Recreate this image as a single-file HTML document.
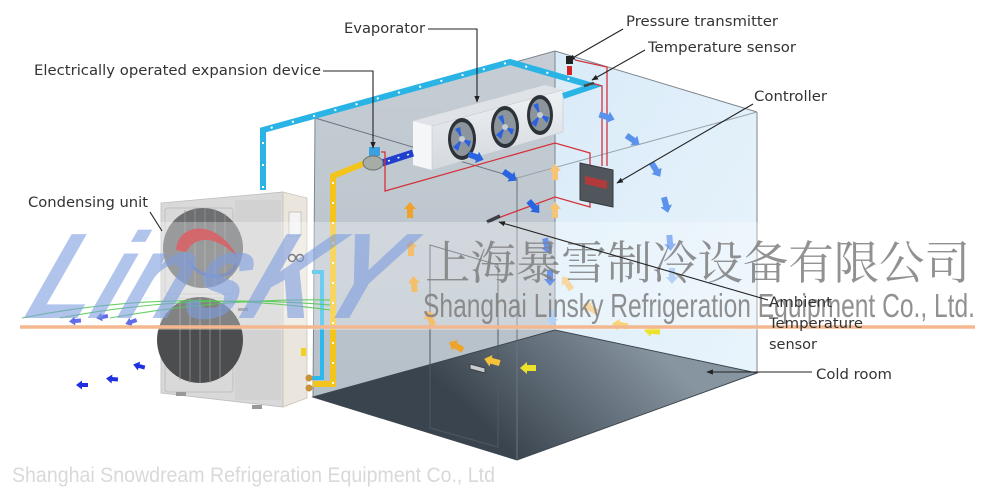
<!DOCTYPE html>
<html><head><meta charset="utf-8"><style>
html,body{margin:0;padding:0;background:#fff;}
svg{display:block;}
.lbl{font-family:"DejaVu Sans","Liberation Sans",sans-serif;font-size:14px;fill:#333;}
</style></head><body>
<svg width="1000" height="490" viewBox="0 0 1000 490" xmlns="http://www.w3.org/2000/svg">
<defs>
  <linearGradient id="gwall" x1="0" y1="0" x2="0" y2="1">
    <stop offset="0" stop-color="#c6cdd4"/><stop offset="1" stop-color="#b6c0c9"/>
  </linearGradient>
  <linearGradient id="bwall" x1="0" y1="0" x2="1" y2="1">
    <stop offset="0" stop-color="#d9ebf8"/><stop offset="1" stop-color="#e9f4fc"/>
  </linearGradient>
  <linearGradient id="floor" gradientUnits="userSpaceOnUse" x1="517" y1="460" x2="640" y2="335">
    <stop offset="0" stop-color="#3a444e"/><stop offset="1" stop-color="#8795a1"/>
  </linearGradient>
  <linearGradient id="evap" x1="0" y1="0" x2="0" y2="1">
    <stop offset="0" stop-color="#eef1f4"/><stop offset="1" stop-color="#d4d9de"/>
  </linearGradient>
  <marker id="ah" viewBox="0 0 10 10" refX="9" refY="5" markerWidth="6" markerHeight="6" orient="auto">
    <path d="M0,1 L10,5 L0,9 Z" fill="#222"/>
  </marker>
  <path id="arr" d="M-8,-3 L1,-3 L1,-6 L8,0 L1,6 L1,3 L-8,3 Z"/>
  <path id="sarr" d="M-6,-2 L0,-2 L0,-4.5 L6,0 L0,4.5 L0,2 L-6,2 Z"/>
</defs>

<!-- ROOM -->
<polygon points="315,118 555,51 555,330 313,397" fill="url(#gwall)"/>
<polygon points="555,51 757,112 757,373 555,330" fill="url(#bwall)"/>
<polygon points="313,397 555,330 757,373 517,460" fill="url(#floor)"/>
<g stroke="#7d868e" stroke-width="1" fill="none">
  <line x1="315" y1="118" x2="555" y2="51"/>
  <line x1="555" y1="51" x2="757" y2="112"/>
  <line x1="757" y1="112" x2="757" y2="373"/>
  <line x1="555" y1="51" x2="555" y2="330"/>
  <line x1="315" y1="118" x2="313" y2="397"/>
  <line x1="315" y1="118" x2="517" y2="178" stroke="#6b747c"/>
  <line x1="517" y1="178" x2="757" y2="112" stroke="#9aa3ab"/>
  <line x1="517" y1="178" x2="517" y2="460" stroke="#6b747c"/>
  <polygon points="313,397 555,330 757,373 517,460" stroke="#3d464f"/>
</g>
<!-- door -->
<polygon points="430,245 498,265 498,447 430,428" fill="none" stroke="#4f5962" stroke-width="1"/>
<polygon points="470,364 485,368 485,373 470,369" fill="#c9ccd0" stroke="#3c3f44" stroke-width="1"/>

<!-- EVAPORATOR -->
<polygon points="413,121 545,85 563,90 432,126" fill="#dfe3e7"/>
<polygon points="413,121 432,126 432,170 413,165" fill="#f4f6f8"/>
<polygon points="432,126 563,90 563,132 432,170" fill="url(#evap)" stroke="#c4cad0" stroke-width="0.6"/>
<g>
  <ellipse cx="462" cy="139" rx="14" ry="21" fill="#2d3238"/>
  <ellipse cx="462" cy="139" rx="11" ry="17" fill="#8c949c"/>
  <path d="M462,139 l-7,-10 l5,-2 z M462,139 l9,2 l-2,6 z M462,139 l-4,12 l-5,-4 z" fill="#2a62e0"/>
  <circle cx="462" cy="139" r="3" fill="#c7ccd1"/>
  <ellipse cx="505" cy="127" rx="14" ry="21" fill="#2d3238"/>
  <ellipse cx="505" cy="127" rx="11" ry="17" fill="#8c949c"/>
  <path d="M505,127 l-7,-10 l5,-2 z M505,127 l9,2 l-2,6 z M505,127 l-4,12 l-5,-4 z" fill="#2a62e0"/>
  <circle cx="505" cy="127" r="3" fill="#c7ccd1"/>
  <ellipse cx="540" cy="115" rx="13" ry="20" fill="#2d3238"/>
  <ellipse cx="540" cy="115" rx="10" ry="16" fill="#8c949c"/>
  <path d="M540,115 l-7,-10 l5,-2 z M540,115 l9,2 l-2,6 z M540,115 l-4,12 l-5,-4 z" fill="#2a62e0"/>
  <circle cx="540" cy="115" r="3" fill="#c7ccd1"/>
</g>

<!-- PIPES -->
<polyline points="263,190 263,130 510,62 593,86 563,96" fill="none" stroke="#2ab4e6" stroke-width="6" stroke-linejoin="miter"/>
<polyline points="263,188 263,130 510,62 593,86" fill="none" stroke="#fff" stroke-width="2" stroke-dasharray="2 20"/>
<polyline points="370,161 333,176 333,384 313,384" fill="none" stroke="#f3c41c" stroke-width="6"/>
<polyline points="333,182 333,384" fill="none" stroke="#fff" stroke-width="2" stroke-dasharray="2 18"/>
<polyline points="312,272 322,272 322,378 312,378" fill="none" stroke="#2cb8ea" stroke-width="4"/>
<line x1="382" y1="163" x2="413" y2="153" stroke="#1f3fcf" stroke-width="7"/>
<line x1="388" y1="161" x2="410" y2="154" stroke="#fff" stroke-width="1.5" stroke-dasharray="2 8"/>

<!-- red wires -->
<g fill="none" stroke="#d4323c" stroke-width="1.3">
  <polyline points="381,152 385,152 385,191 555,143 590,153 590,168"/>
  <polyline points="498,218 555,197 590,207 590,198"/>
  <polyline points="575,60 607,67 607,166"/>
  <polyline points="592,83 602,86 602,166"/>
</g>
<!-- valve -->
<rect x="369" y="147" width="11" height="9" fill="#3aa0e0"/>
<ellipse cx="373" cy="163" rx="10" ry="7" fill="#a8aca6" stroke="#6f7370" stroke-width="1"/>
<!-- controller -->
<polygon points="580,163 613,170 613,207 580,200" fill="#50565c" stroke="#33383d" stroke-width="1"/>
<polygon points="585,176 607,181 607,189 585,184" fill="#b23a3a"/>
<!-- sensors -->
<rect x="566" y="56" width="7" height="8" fill="#222"/>
<rect x="567" y="66" width="5" height="9" fill="#d42424"/>
<line x1="487" y1="222" x2="500" y2="216" stroke="#3c3f44" stroke-width="3.5"/>
<line x1="584" y1="86" x2="594" y2="83" stroke="#444" stroke-width="2.5"/>

<!-- AIRFLOW ARROWS -->
<g fill="#2a64e0">
  <use href="#arr" transform="translate(476,157) rotate(20)"/>
  <use href="#arr" transform="translate(510,176) rotate(35)"/>
  <use href="#arr" transform="translate(534,207) rotate(48)"/>
  <use href="#arr" transform="translate(547,246) rotate(75)"/>
  <use href="#arr" transform="translate(550,278) rotate(90)"/>
</g>
<g fill="#5b93ec">
  <use href="#arr" transform="translate(607,117) rotate(18)"/>
  <use href="#arr" transform="translate(633,140) rotate(35)"/>
  <use href="#arr" transform="translate(656,170) rotate(58)"/>
  <use href="#arr" transform="translate(666,205) rotate(75)"/>
  <use href="#arr" transform="translate(670,243) rotate(85)"/>
</g>
<g fill="#94bdf2">
  <use href="#arr" transform="translate(672,276) rotate(90)"/>
  <use href="#arr" transform="translate(552,318) rotate(90)"/>
</g>
<g fill="#f0a32a">
  <use href="#arr" transform="translate(410,210) rotate(-90)"/>
  <use href="#arr" transform="translate(411,248) rotate(-90)"/>
  <use href="#arr" transform="translate(414,284) rotate(-95)"/>
  <use href="#arr" transform="translate(430,318) rotate(-115)"/>
  <use href="#arr" transform="translate(456,346) rotate(-150)"/>
</g>
<g fill="#f6c23a">
  <use href="#arr" transform="translate(492,361) rotate(-165)"/>
  <use href="#arr" transform="translate(620,325) rotate(-170)"/>
</g>
<g fill="#ece22e">
  <use href="#arr" transform="translate(528,368) rotate(180)"/>
  <use href="#arr" transform="translate(652,331) rotate(-175)"/>
</g>
<g fill="#f5c476">
  <use href="#arr" transform="translate(555,172) rotate(-90)"/>
  <use href="#arr" transform="translate(555,210) rotate(-90)"/>
  <use href="#arr" transform="translate(567,283) rotate(-125)"/>
  <use href="#arr" transform="translate(590,308) rotate(-150)"/>
</g>
<g fill="#1f30e0">
  <use href="#sarr" transform="translate(75,321) rotate(175)"/>
  <use href="#sarr" transform="translate(102,317) rotate(170)"/>
  <use href="#sarr" transform="translate(131,322) rotate(160)"/>
  <use href="#sarr" transform="translate(139,366) rotate(195)"/>
  <use href="#sarr" transform="translate(112,379) rotate(185)"/>
  <use href="#sarr" transform="translate(82,385) rotate(180)"/>
</g>

<!-- CONDENSING UNIT -->
<polygon points="161,203 283,192 283,407 161,393" fill="#d9d9d9" stroke="#bdbdbd" stroke-width="0.8"/>
<polygon points="283,192 307,198 307,398 283,407" fill="#ebe6dd" stroke="#c9c3b8" stroke-width="0.8"/>
<rect x="235" y="200" width="46" height="200" fill="#d2d2d2"/>
<rect x="165" y="208" width="68" height="86" rx="3" fill="none" stroke="#c0c0c0"/>
<rect x="165" y="298" width="68" height="94" rx="3" fill="none" stroke="#c0c0c0"/>
<circle cx="203" cy="248" r="40" fill="#6e6f70"/>
<circle cx="200" cy="340" r="43" fill="#4c4d4e"/>
<g stroke="#9a9a9a" stroke-width="0.7">
  <line x1="185" y1="210" x2="185" y2="286"/><line x1="195" y1="208" x2="195" y2="288"/><line x1="205" y1="208" x2="205" y2="288"/><line x1="215" y1="209" x2="215" y2="287"/><line x1="225" y1="214" x2="225" y2="282"/>
  <line x1="180" y1="300" x2="180" y2="380"/><line x1="190" y1="298" x2="190" y2="383"/><line x1="200" y1="297" x2="200" y2="383"/><line x1="210" y1="298" x2="210" y2="383"/><line x1="220" y1="302" x2="220" y2="378"/>
</g>
<rect x="289" y="212" width="12" height="24" fill="#f3f3f3" stroke="#aaa" stroke-width="0.6"/>
<circle cx="292" cy="258" r="3.5" fill="none" stroke="#445" stroke-width="1.5"/>
<circle cx="300" cy="258" r="3.5" fill="none" stroke="#445" stroke-width="1.5"/>
<rect x="301" y="348" width="5" height="8" fill="#f2d21a"/>
<circle cx="309" cy="378" r="3.5" fill="#c8923a"/>
<circle cx="309" cy="388" r="3.5" fill="#c8923a"/>
<rect x="176" y="392" width="10" height="4" fill="#999"/>
<rect x="252" y="405" width="10" height="4" fill="#999"/>
<rect x="238" y="308" width="10" height="3" fill="#888"/>
<!-- red swoosh -->
<path d="M176,250 C178,222 218,218 238,258 C218,236 196,234 186,252 Z" fill="#c0282d"/>
<path d="M190,262 C200,282 235,280 236,262" fill="none" stroke="#3a5cc0" stroke-width="3" opacity="0.7"/>

<!-- WATERMARK -->
<rect x="0" y="222" width="1000" height="108" fill="#fff" opacity="0.3"/>
<g fill="none" stroke="#56cc56" stroke-width="1.1" opacity="0.9">
  <path d="M22,318 Q170,288 330,310"/>
  <path d="M60,318 Q190,293 330,305"/>
  <path d="M110,318 Q220,298 330,300"/>
</g>
<text transform="translate(22,318) skewX(-22)" x="0" y="0" font-family="Liberation Sans, sans-serif" font-weight="bold" font-style="italic" font-size="122" fill="#7c9de0" opacity="0.6" textLength="360" lengthAdjust="spacingAndGlyphs">LinsKY</text>
<text x="425" y="279" font-family="Liberation Serif, Noto Serif CJK SC, serif" font-size="46" fill="#7e7e7e" opacity="0.85" textLength="545" lengthAdjust="spacingAndGlyphs">上海暴雪制冷设备有限公司</text>
<text x="423" y="317" font-family="Liberation Sans, sans-serif" font-size="33" fill="#7e7e7e" opacity="0.85" textLength="552" lengthAdjust="spacingAndGlyphs">Shanghai Linsky Refrigeration Equipment Co., Ltd.</text>
<line x1="20" y1="327" x2="975" y2="327" stroke="#f3b88f" stroke-width="3.5"/>
<text x="12" y="482" font-family="Liberation Sans, sans-serif" font-size="21" fill="#d9d9d9" textLength="483" lengthAdjust="spacingAndGlyphs">Shanghai Snowdream Refrigeration Equipment Co., Ltd</text>

<!-- LABELS & LEADERS -->
<g stroke="#222" stroke-width="1.1" fill="none">
  <polyline points="428,29 477,29 477,102" marker-end="url(#ah)"/>
  <polyline points="323,71 373,71 373,148" marker-end="url(#ah)"/>
  <line x1="150" y1="212" x2="162" y2="231"/>
  <line x1="623" y1="29" x2="569" y2="60" marker-end="url(#ah)"/>
  <line x1="645" y1="50" x2="592" y2="80" marker-end="url(#ah)"/>
  <line x1="753" y1="104" x2="617" y2="183" marker-end="url(#ah)"/>
  <line x1="768" y1="300" x2="499" y2="222" marker-end="url(#ah)"/>
  <line x1="812" y1="372" x2="707" y2="372" marker-end="url(#ah)"/>
</g>
<text class="lbl" x="344" y="33" textLength="81" lengthAdjust="spacingAndGlyphs">Evaporator</text>
<text class="lbl" x="34" y="75" textLength="287" lengthAdjust="spacingAndGlyphs">Electrically operated expansion device</text>
<text class="lbl" x="28" y="207" textLength="120" lengthAdjust="spacingAndGlyphs">Condensing unit</text>
<text class="lbl" x="626" y="26" textLength="152" lengthAdjust="spacingAndGlyphs">Pressure transmitter</text>
<text class="lbl" x="648" y="52" textLength="148" lengthAdjust="spacingAndGlyphs">Temperature sensor</text>
<text class="lbl" x="754" y="101" textLength="73" lengthAdjust="spacingAndGlyphs">Controller</text>
<text class="lbl" x="769" y="307" textLength="63" lengthAdjust="spacingAndGlyphs">Ambient</text>
<text class="lbl" x="769" y="328" textLength="94" lengthAdjust="spacingAndGlyphs">Temperature</text>
<text class="lbl" x="769" y="349" textLength="48" lengthAdjust="spacingAndGlyphs">sensor</text>
<text class="lbl" x="816" y="379" textLength="76" lengthAdjust="spacingAndGlyphs">Cold room</text>
</svg>
</body></html>
